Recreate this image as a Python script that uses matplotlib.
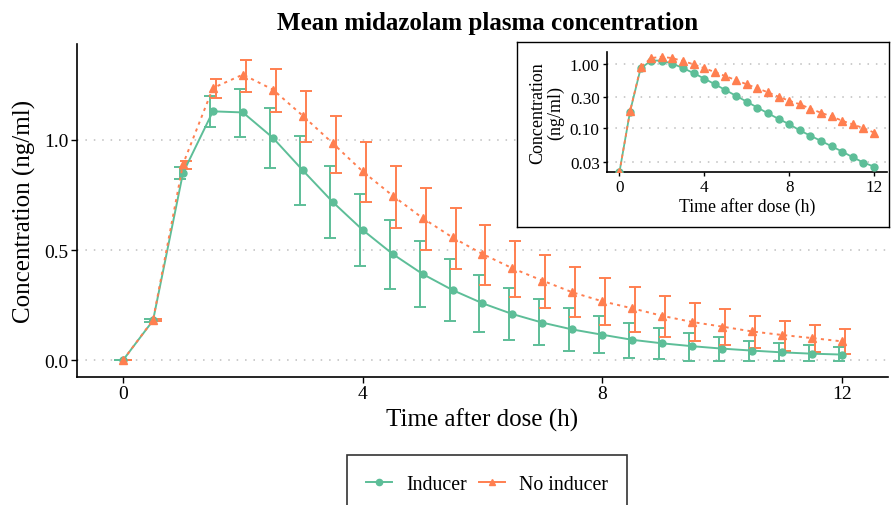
import numpy as np
import matplotlib
matplotlib.use("Agg")
import matplotlib.pyplot as plt
from matplotlib.lines import Line2D

plt.rcParams['font.family'] = ['Liberation Serif', 'DejaVu Serif']

# data
time = np.arange(0, 12.5, 0.5)

ind_mean = [0, 0.18, 0.85, 1.13, 1.125, 1.01, 0.862, 0.718, 0.591, 0.482, 0.391,
            0.318, 0.258, 0.209, 0.170, 0.139, 0.115, 0.092, 0.076, 0.063, 0.052,
            0.043, 0.035, 0.029, 0.025]
ind_hi = [0, 0.186, 0.876, 1.20, 1.23, 1.145, 1.017, 0.88, 0.753, 0.638, 0.541,
          0.458, 0.386, 0.327, 0.279, 0.236, 0.200, 0.168, 0.144, 0.124, 0.106,
          0.088, 0.076, 0.067, 0.058]
ind_lo = [0, 0.174, 0.823, 1.06, 1.015, 0.873, 0.706, 0.555, 0.426, 0.323, 0.241,
          0.177, 0.129, 0.091, 0.067, 0.042, 0.030, 0.009, 0.006, -0.002, -0.002,
          -0.004, -0.006, -0.006, -0.006]

noind_mean = [0, 0.182, 0.89, 1.236, 1.297, 1.229, 1.11, 0.985, 0.857, 0.747, 0.645,
              0.557, 0.482, 0.417, 0.361, 0.308, 0.267, 0.235, 0.201, 0.173, 0.152,
              0.130, 0.114, 0.100, 0.085]
noind_hi = [0, 0.188, 0.903, 1.277, 1.365, 1.323, 1.224, 1.109, 0.992, 0.883, 0.783,
            0.692, 0.614, 0.542, 0.479, 0.421, 0.373, 0.330, 0.292, 0.259, 0.230,
            0.201, 0.177, 0.159, 0.140]
noind_lo = [0, 0.176, 0.868, 1.19, 1.22, 1.126, 0.99, 0.85, 0.717, 0.60, 0.50,
            0.415, 0.342, 0.285, 0.235, 0.194, 0.159, 0.129, 0.106, 0.085, 0.070,
            0.055, 0.042, 0.035, 0.027]

green = '#5DBE98'
orange = '#FF7F50'
dotted = (0, (1.6, 2.2))

fig = plt.figure(figsize=(8.91, 5.06), dpi=100)
ax = fig.add_axes([0.0864, 0.2536, 0.9102, 0.6575])

def style_axes(a, tick_size, tick_len):
    for s in ['top', 'right']:
        a.spines[s].set_visible(False)
    for s in ['left', 'bottom']:
        a.spines[s].set_linewidth(1.2)
    a.tick_params(direction='out', length=tick_len, width=1, labelsize=tick_size,
                  colors='black', pad=2)
    a.grid(axis='y', color='#BEBEBE', linestyle=(0, (1, 4.5)), linewidth=1.1)
    a.set_axisbelow(True)

style_axes(ax, 14, 4)

dodge = 0.05
for lo, hi, col, off in [(ind_lo, ind_hi, green, -dodge), (noind_lo, noind_hi, orange, dodge)]:
    lo = np.array(lo); hi = np.array(hi)
    ax.errorbar(time + off, (lo + hi) / 2, yerr=(hi - lo) / 2, fmt='none',
                ecolor=col, elinewidth=1.4, capsize=4.3, capthick=1.4, zorder=3)

ax.plot(time, ind_mean, color=green, lw=1.4, marker='o', ms=5, zorder=4)
ax.plot(time, noind_mean, color=orange, lw=1.4, ls=dotted, marker='^', ms=5.5, zorder=4)

ax.set_xlim(-0.77, 12.77)
ax.set_ylim(-0.0755, 1.436)
ax.set_xticks([0, 4, 8, 12])
ax.set_yticks([0.0, 0.5, 1.0])
ax.set_yticklabels(['0.0', '0.5', '1.0'])
ax.set_xlabel('Time after dose (h)', fontsize=18, labelpad=4)
ax.set_ylabel('Concentration (ng/ml)', fontsize=18, labelpad=6)
ax.set_title('Mean midazolam plasma concentration', fontsize=18,
             fontweight='bold', pad=11, x=0.506)

# inset box
box = fig.add_axes([0.5802, 0.549, 0.4175, 0.366], zorder=5)
box.set_xticks([]); box.set_yticks([])
for s in box.spines.values():
    s.set_linewidth(1.0)
    s.set_color('black')
box.set_facecolor('white')

ins = fig.add_axes([0.6809, 0.6575, 0.3143, 0.2372], zorder=6)
style_axes(ins, 12.3, 3)
ins.set_yscale('log')
ins.set_ylim(0.0204, 1.52)
ins.set_xlim(-0.6, 12.6)
ybot = 0.0204
ins.plot(time, np.where(np.array(ind_mean) > 0, ind_mean, ybot), color=green, lw=1.3,
         marker='o', ms=5, zorder=4)
ins.plot(time, np.where(np.array(noind_mean) > 0, noind_mean, ybot), color=orange, lw=1.3,
         ls=(0, (2, 2)), marker='^', ms=5.5, zorder=4)
ins.set_xticks([0, 4, 8, 12])
ins.set_yticks([0.03, 0.1, 0.3, 1.0])
ins.set_yticklabels(['0.03', '0.10', '0.30', '1.00'])
ins.minorticks_off()
ins.set_xlabel('Time after dose (h)', fontsize=12.8, labelpad=1)
ins.set_ylabel('Concentration\n(ng/ml)', fontsize=13, labelpad=4, linespacing=1.05)

handles = [Line2D([], [], color=green, lw=1.4, marker='o', ms=4.5),
           Line2D([], [], color=orange, lw=1.4, marker='^', ms=5)]
leg = fig.legend(handles, ['Inducer', 'No inducer'], loc='upper center',
                 bbox_to_anchor=(487 / 891, 1 - 456 / 506), ncol=2, fontsize=14.3,
                 frameon=True, fancybox=False, borderpad=1.0, handlelength=1.3,
                 handletextpad=0.7, columnspacing=0.6, borderaxespad=0)
leg.get_frame().set_edgecolor('black')
leg.get_frame().set_linewidth(1.2)

fig.savefig('out.png', dpi=100)
